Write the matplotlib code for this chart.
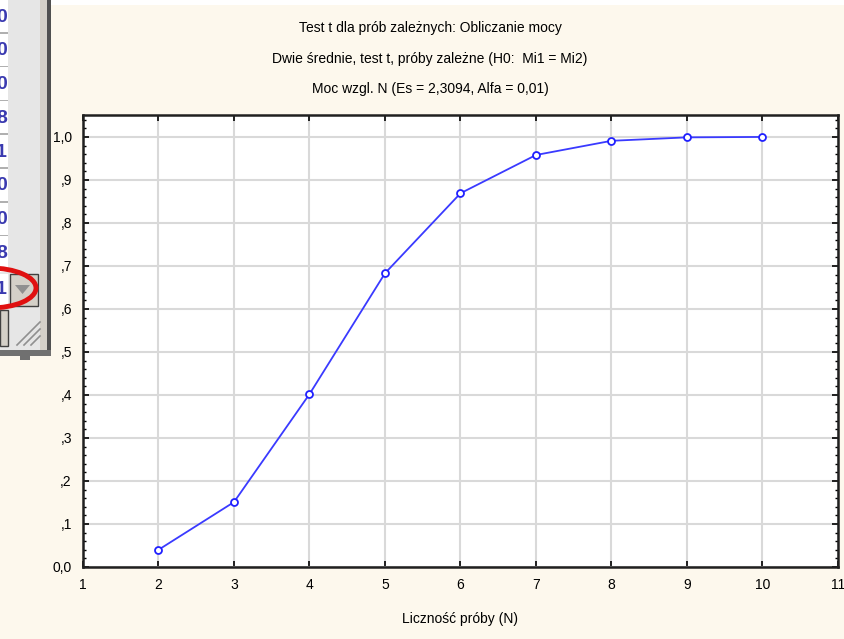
import matplotlib.pyplot as plt
from matplotlib.patches import Rectangle, Ellipse, Polygon
import numpy as np

plt.rcParams['font.family'] = ['Liberation Sans', 'DejaVu Sans']

# data
n_vals = [2, 3, 4, 5, 6, 7, 8, 9, 10]
power = [0.040, 0.151, 0.402, 0.683, 0.869, 0.958, 0.991, 0.999, 1.000]
yticks = [0.0, 0.1, 0.2, 0.3, 0.4, 0.5, 0.6, 0.7, 0.8, 0.9, 1.0]
ytick_labels = ['0,0', ',1', ',2', ',3', ',4', ',5', ',6', ',7', ',8', ',9', '1,0']
xticks = [1, 2, 3, 4, 5, 6, 7, 8, 9, 10, 11]
titles = ['Test t dla prób zależnych: Obliczanie mocy',
          'Dwie średnie, test t, próby zależne (H0:  Mi1 = Mi2)',
          'Moc wzgl. N (Es = 2,3094, Alfa = 0,01)']
cell_digits = ['0', '0', '0', '8', '1', '0', '0', '8', '1']

W, H = 845, 639
bg = '#fdf8ed'
fig = plt.figure(figsize=(W / 100, H / 100), dpi=100, facecolor=bg)

def fx(x):
    return x / W

def fy(y):
    return 1 - y / H

def rect(x0, y0, x1, y1, **kw):
    fig.patches.append(Rectangle((fx(x0), fy(y1)), fx(x1) - fx(x0), fy(y0) - fy(y1),
                                 transform=fig.transFigure, **kw))

# white strip at the top
rect(0, 0, W, 5, facecolor='white', edgecolor='none')

# piece of dialog window on the left (screenshot leftover)
rect(0, 0, 48, 352, facecolor='#e6e6e6', edgecolor='none')
rect(40, 0, 47, 352, facecolor='#d4d0c8', edgecolor='none')
rect(47, 0, 51, 356, facecolor='#505050', edgecolor='none')
rect(0, 350, 51, 356, facecolor='#707070', edgecolor='none')
rect(0, 0, 8, 272, facecolor='white', edgecolor='none')
for i, d in enumerate(cell_digits[:8]):
    yy = i * 33.8
    rect(0, yy + 32, 8, yy + 33.5, facecolor='#b0b0b0', edgecolor='none')
    fig.text(fx(-4), fy(yy + 17), d, color='#3a3ab0', fontsize=14,
             fontweight='bold', va='center', ha='left')
rect(0, 274, 8, 305, facecolor='white', edgecolor='none')
fig.text(fx(-4), fy(290), cell_digits[8], color='#3a3ab0', fontsize=14,
         fontweight='bold', va='center', ha='left')
rect(10, 274, 38, 306, facecolor='#d4d0c8', edgecolor='#404040', linewidth=1)
fig.patches.append(Polygon([(fx(15), fy(285)), (fx(30), fy(285)), (fx(22.5), fy(294))],
                           closed=True, transform=fig.transFigure,
                           facecolor='#909090', edgecolor='none'))
rect(0, 310, 8, 346, facecolor='#d4d0c8', edgecolor='#404040', linewidth=1)
# resize grip
for x0 in [17, 24, 31]:
    fig.lines.append(plt.Line2D([fx(x0), fx(40)], [fy(345), fy(345 - (40 - x0))],
                                transform=fig.transFigure, color='#909090', lw=1.2))
fig.patches.append(Ellipse((fx(-10), fy(288)), fx(92), 40 / H, transform=fig.transFigure,
                           facecolor='none', edgecolor='#e01010', linewidth=3.5))
rect(20, 356, 30, 360, facecolor='#707070', edgecolor='none')

# chart
ax = fig.add_axes([83 / W, (H - 567) / H, (838 - 83) / W, (567 - 115) / H])
ax.set_facecolor('white')
ax.plot(n_vals, power, color='#3a3aff', lw=1.3, marker='o', markersize=5,
        markerfacecolor='white', markeredgecolor='#2020ff', markeredgewidth=1.3)

ax.set_xlim(1, 11)
ax.set_ylim(0, 1.051)
ax.set_xticks(xticks)
ax.set_yticks(yticks)
ax.set_yticklabels(ytick_labels)
ax.set_yticks(np.arange(0, 1.051, 0.02), minor=True)
ax.grid(True, which='major', color='#d9d9d9', lw=1.5)
ax.set_axisbelow(True)
ax.tick_params(which='major', direction='in', length=4, width=1.2,
               top=True, right=True, labelsize=10, pad=8, colors='black')
ax.tick_params(which='minor', direction='in', length=2, width=1, left=True, right=True)
for s in ax.spines.values():
    s.set_linewidth(1.8)
    s.set_color('#202020')

ax.set_xlabel('Liczność próby (N)', fontsize=10, labelpad=14)

for i, t in enumerate(titles):
    fig.text(430 / W, fy(28 + i * 30.5), t, fontsize=10, ha='center', va='center')

fig.savefig('out.png', dpi=100, facecolor=bg)
